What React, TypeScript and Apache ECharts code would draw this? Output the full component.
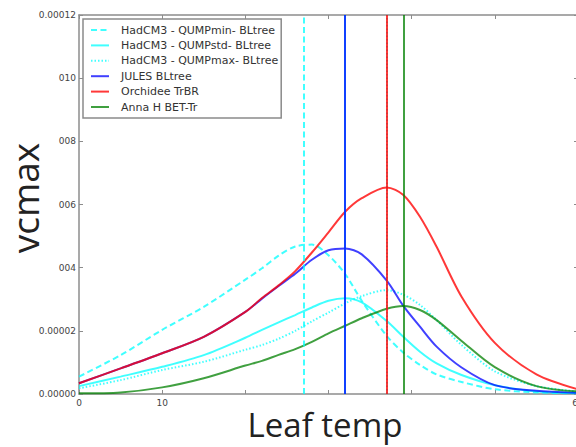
import React, { useEffect, useRef } from "react";
import * as echarts from "echarts";

// Leaf temperature (x) sample points
const temps = [0, 5, 10, 15, 20, 22, 24, 26, 28, 30, 32, 34, 37, 39, 41, 43, 46, 50, 55, 60];
// vcmax values
const qumpMin = [0.55e-5, 1.23e-5, 2.03e-5, 2.76e-5, 3.62e-5, 3.98e-5, 4.38e-5, 4.67e-5, 4.73e-5, 4.39e-5, 3.8e-5, 2.95e-5, 1.84e-5, 1.31e-5, 0.92e-5, 0.62e-5, 0.38e-5, 0.15e-5, 0.05e-5, 0.02e-5];
const qumpStd = [0.25e-5, 0.55e-5, 0.86e-5, 1.23e-5, 1.78e-5, 2.03e-5, 2.27e-5, 2.5e-5, 2.74e-5, 2.95e-5, 3.03e-5, 2.9e-5, 2.31e-5, 1.81e-5, 1.34e-5, 0.97e-5, 0.6e-5, 0.28e-5, 0.08e-5, 0.03e-5];
const qumpMax = [0.18e-5, 0.44e-5, 0.76e-5, 1.02e-5, 1.4e-5, 1.55e-5, 1.75e-5, 2.0e-5, 2.3e-5, 2.58e-5, 2.87e-5, 3.1e-5, 3.29e-5, 3.14e-5, 2.82e-5, 2.34e-5, 1.55e-5, 0.72e-5, 0.25e-5, 0.08e-5];
const jules = [0.34e-5, 0.81e-5, 1.29e-5, 1.81e-5, 2.6e-5, 3.02e-5, 3.42e-5, 3.81e-5, 4.25e-5, 4.55e-5, 4.61e-5, 4.42e-5, 3.59e-5, 2.79e-5, 2.13e-5, 1.5e-5, 0.84e-5, 0.28e-5, 0.1e-5, 0.04e-5];
const orchidee = [0.34e-5, 0.81e-5, 1.29e-5, 1.81e-5, 2.6e-5, 3.04e-5, 3.44e-5, 3.89e-5, 4.48e-5, 5.12e-5, 5.77e-5, 6.2e-5, 6.54e-5, 6.3e-5, 5.61e-5, 4.66e-5, 3.08e-5, 1.62e-5, 0.62e-5, 0.15e-5];
const annaH = [0.02e-5, 0.05e-5, 0.21e-5, 0.5e-5, 0.9e-5, 1.05e-5, 1.24e-5, 1.42e-5, 1.65e-5, 1.92e-5, 2.16e-5, 2.4e-5, 2.7e-5, 2.79e-5, 2.66e-5, 2.34e-5, 1.68e-5, 0.85e-5, 0.25e-5, 0.08e-5];

// Vertical reference lines (optimum temperatures)
const optQumpMin = 27;
const optQumpStd = 32;
const optQumpMax = 37;
const optJules = 32;
const optOrchidee = 37;
const optAnnaH = 39;

const seriesNames = [
  "HadCM3 - QUMPmin- BLtree",
  "HadCM3 - QUMPstd- BLtree",
  "HadCM3 - QUMPmax- BLtree",
  "JULES BLtree",
  "Orchidee TrBR",
  "Anna H BET-Tr",
];

// Tick labels as visible in the picture
const xTickLabels = ["0", "10", "", "", "", "", "60"];
const yTickLabels = ["0.00000", "0.00002", "004", "006", "008", "010", "0.00012"];

const CYAN = "rgba(0,255,255,0.75)";
const BLUE = "rgba(0,0,255,0.75)";
const RED = "rgba(255,0,0,0.78)";
const GREEN = "rgba(0,128,0,0.75)";

const pairs = (ys: number[]) => temps.map((t, i) => [t, ys[i]]);

export default function App() {
  const ref = useRef<HTMLDivElement>(null);

  useEffect(() => {
    if (!ref.current) return;
    const chart = echarts.init(ref.current, null, { renderer: "svg" });
    const font = "DejaVu Sans";
    const axisColor = "#8c8c8c";

    const mkSeries = (
      name: string,
      ys: number[],
      color: string,
      type: any,
      opt: number
    ) => ({
      name,
      type: "line",
      data: pairs(ys),
      symbol: "none",
      smooth: 0.3,
      xAxisIndex: 0,
      yAxisIndex: 0,
      lineStyle: { color, width: 2, type },
      itemStyle: { color },
      markLine: {
        silent: true,
        symbol: "none",
        label: { show: false },
        lineStyle: { color, width: 2, type },
        data: [{ xAxis: opt }],
      },
    });

    const commonX = {
      type: "value",
      min: 0,
      max: 60,
      interval: 10,
      splitLine: { show: false },
      axisLine: { show: true, onZero: false, lineStyle: { color: axisColor, width: 1.5 } },
      axisTick: { show: true, inside: true, length: 4, lineStyle: { color: axisColor } },
    };
    const commonY = {
      type: "value",
      min: 0,
      max: 0.00012,
      interval: 0.00002,
      splitLine: { show: false },
      axisLine: { show: true, onZero: false, lineStyle: { color: axisColor, width: 1.5 } },
      axisTick: { show: true, inside: true, length: 4, lineStyle: { color: axisColor } },
    };

    chart.setOption({
      animation: false,
      backgroundColor: "#ffffff",
      grid: { left: 79, top: 15, right: 22, bottom: 53, containLabel: false },
      legend: {
        orient: "vertical",
        left: 83,
        top: 19,
        data: seriesNames,
        itemWidth: 18,
        itemHeight: 12,
        itemGap: 3.4,
        padding: [5, 3, 5, 7],
        borderColor: "#8a8a8a",
        borderWidth: 1.5,
        borderRadius: 0,
        backgroundColor: "#ffffff",
        itemStyle: { opacity: 0 },
        lineStyle: { width: 2 },
        textStyle: {
          fontFamily: font,
          fontSize: 11,
          color: "#333333",
          lineHeight: 12,
          padding: [0, 0, 0, 7],
        },
      },
      xAxis: [
        {
          ...commonX,
          position: "bottom",
          axisLabel: {
            show: true,
            margin: 4,
            fontFamily: font,
            fontSize: 9,
            color: "#444444",
            formatter: (v: number) => xTickLabels[Math.round(v / 10)] ?? "",
          },
        },
        { ...commonX, position: "top", axisLabel: { show: false } },
      ],
      yAxis: [
        {
          ...commonY,
          position: "left",
          axisLabel: {
            show: true,
            margin: 3,
            fontFamily: font,
            fontSize: 9,
            color: "#444444",
            formatter: (v: number) => yTickLabels[Math.round(v / 0.00002)] ?? "",
          },
        },
        { ...commonY, position: "right", axisLabel: { show: false } },
      ],
      series: [
        mkSeries(seriesNames[0], qumpMin, CYAN, [6, 3.5], optQumpMin),
        mkSeries(seriesNames[1], qumpStd, CYAN, "solid", optQumpStd),
        mkSeries(seriesNames[2], qumpMax, CYAN, [1.5, 2], optQumpMax),
        mkSeries(seriesNames[3], jules, BLUE, "solid", optJules),
        mkSeries(seriesNames[4], orchidee, RED, "solid", optOrchidee),
        mkSeries(seriesNames[5], annaH, GREEN, "solid", optAnnaH),
      ],
      graphic: [
        {
          type: "text",
          x: 24,
          y: 198,
          rotation: Math.PI / 2,
          style: {
            text: "vcmax",
            fontFamily: "Open Sans",
            fontSize: 37,
            fill: "#222222",
            textAlign: "center",
            textVerticalAlign: "middle",
          },
        },
        {
          type: "text",
          x: 325,
          y: 441,
          style: {
            text: "Leaf temp",
            fontFamily: "Open Sans",
            fontSize: 33,
            fill: "#222222",
            textAlign: "center",
            textVerticalAlign: "bottom",
          },
        },
      ],
    });

    return () => chart.dispose();
  }, []);

  return (
    <div
      style={{
        position: "absolute",
        left: 0,
        top: 0,
        width: 576,
        height: 447,
        overflow: "hidden",
        background: "#ffffff",
      }}
    >
      <div ref={ref} style={{ width: 600, height: 447 }} />
    </div>
  );
}
